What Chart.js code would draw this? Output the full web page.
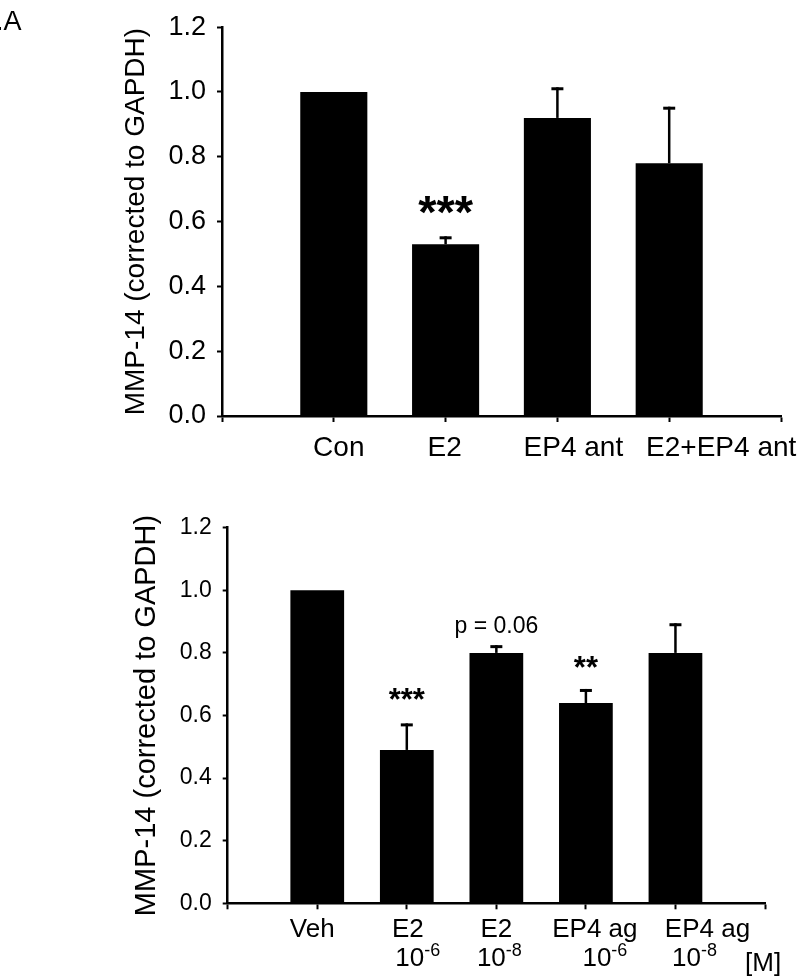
<!DOCTYPE html>
<html><head><meta charset="utf-8">
<script src="https://cdn.jsdelivr.net/npm/chart.js@4"></script>
<style>
html,body{margin:0;padding:0;background:#fff;width:800px;height:979px;overflow:hidden;position:relative}
canvas{position:absolute;left:0}
#c1{top:0}
#c2{top:480px}
</style></head><body>
<canvas id="c1" width="800" height="480"></canvas>
<canvas id="c2" width="800" height="499"></canvas>
<script>
// ---- data ----
const topCategories = ['Con', 'E2', 'EP4 ant', 'E2+EP4 ant'];
const topValues = [1.0, 0.53, 0.92, 0.78];
const topErrors = [0, 0.02, 0.09, 0.17];
const topMarks = ['', '***', '', ''];

const bottomCategories = ['Veh', 'E2', 'E2', 'EP4 ag', 'EP4 ag'];
const bottomDoseBase = ['', '10', '10', '10', '10'];
const bottomDoseExp = ['', '-6', '-8', '-6', '-8'];
const bottomUnit = '[M]';
const bottomValues = [1.0, 0.49, 0.80, 0.64, 0.80];
const bottomErrors = [0, 0.08, 0.02, 0.04, 0.09];
const bottomMarks = ['', '***', 'p = 0.06', '**', ''];

const yTickValues = [0, 0.2, 0.4, 0.6, 0.8, 1.0, 1.2];
const yTitle = 'MMP-14 (corrected to GAPDH)';
const panelLabel = '.A';

const FONT = "'Liberation Sans', Arial, Helvetica, sans-serif";

function pad(arr, fill) { return [fill, ...arr, fill]; }

const errorBars = {
  id: 'errorBars',
  afterDatasetsDraw(chart, args, o) {
    const ctx = chart.ctx, y = chart.scales.y, meta = chart.getDatasetMeta(0);
    const vals = chart.data.datasets[0].data;
    ctx.save();
    ctx.strokeStyle = '#000';
    meta.data.forEach((bar, i) => {
      const e = o.errors[i];
      if (!e) return;
      const v = vals[i];
      const y0 = y.getPixelForValue(v), y1 = y.getPixelForValue(v + e);
      ctx.lineWidth = o.stem;
      ctx.beginPath(); ctx.moveTo(bar.x, y0); ctx.lineTo(bar.x, y1 - o.capW / 2); ctx.stroke();
      ctx.lineWidth = o.capW;
      ctx.beginPath(); ctx.moveTo(bar.x - o.cap, y1); ctx.lineTo(bar.x + o.cap, y1); ctx.stroke();
    });
    ctx.restore();
  }
};

const marks = {
  id: 'marks',
  afterDatasetsDraw(chart, args, o) {
    const ctx = chart.ctx, y = chart.scales.y, meta = chart.getDatasetMeta(0);
    const vals = chart.data.datasets[0].data;
    ctx.save();
    ctx.fillStyle = '#000';
    ctx.textAlign = 'center';
    ctx.textBaseline = 'alphabetic';
    meta.data.forEach((bar, i) => {
      const t = o.marks[i];
      if (!t) return;
      ctx.font = o.fonts[i];
      const yy = y.getPixelForValue(vals[i] + (o.errors[i] || 0)) - o.gaps[i];
      ctx.fillText(t, bar.x, yy);
    });
    ctx.restore();
  }
};

const xLabels = {
  id: 'xLabels',
  afterDraw(chart, args, o) {
    const ctx = chart.ctx, x = chart.scales.x;
    ctx.save();
    ctx.fillStyle = '#000';
    ctx.textBaseline = 'alphabetic';
    o.labels.forEach((t, i) => {
      const px = x.getPixelForValue(i + 1);
      ctx.font = o.font;
      ctx.textAlign = 'center';
      ctx.fillText(t, px + o.shift[i], o.baseline);
      if (o.base && o.base[i]) {
        ctx.font = o.font;
        const w1 = ctx.measureText(o.base[i]).width;
        ctx.font = o.expFont;
        const w2 = ctx.measureText(o.exp[i]).width;
        const left = px + o.shift2[i] - (w1 + w2) / 2;
        ctx.textAlign = 'left';
        ctx.font = o.font;
        ctx.fillText(o.base[i], left, o.baseline2);
        ctx.font = o.expFont;
        ctx.fillText(o.exp[i], left + w1, o.expBaseline);
      }
    });
    if (o.unit) {
      ctx.font = o.font;
      ctx.textAlign = 'left';
      ctx.fillText(o.unit, o.unitX, o.unitY);
    }
    if (o.panel) {
      ctx.font = o.panelFont;
      ctx.textAlign = 'left';
      ctx.fillText(o.panel, o.panelX, o.panelY);
    }
    ctx.restore();
  }
};

function makeChart(id, cats, vals, errs, m, cfg) {
  const labels = pad(cats.map(() => ''), '');
  return new Chart(document.getElementById(id), {
    type: 'bar',
    data: {
      labels: labels,
      datasets: [{
        data: pad(vals, null),
        backgroundColor: '#000',
        borderWidth: 0,
        categoryPercentage: 1.0,
        barPercentage: 0.6
      }]
    },
    options: {
      responsive: false,
      animation: false,
      devicePixelRatio: 1,
      layout: { padding: { left: 0, top: cfg.top, right: cfg.right, bottom: 0 } },
      plugins: {
        legend: { display: false },
        tooltip: { enabled: false },
        errorBars: { errors: pad(errs, 0), stem: 2.5, capW: 3, cap: 6 },
        marks: { marks: pad(m, ''), errors: pad(errs, 0), fonts: pad(cfg.markFonts, ''), gaps: pad(cfg.markGaps, 0) },
        xLabels: cfg.xl
      },
      scales: {
        x: {
          type: 'category',
          offset: false,
          grid: { display: true, offset: false, drawOnChartArea: false, drawTicks: true, tickLength: 6, tickWidth: 2, tickColor: '#000' },
          border: { display: true, color: '#000', width: 2.5 },
          ticks: { display: false },
          afterFit: s => { s.height = cfg.xh; }
        },
        y: {
          min: 0, max: 1.2,
          afterBuildTicks: s => { s.ticks = yTickValues.map(v => ({ value: v })); },
          grid: { display: true, drawOnChartArea: false, drawTicks: true, tickLength: 5, tickWidth: 2, tickColor: '#000' },
          border: { display: true, color: '#000', width: 2.5 },
          ticks: { color: '#000', padding: cfg.ytPad, font: { family: FONT, size: cfg.ytSize }, callback: v => Number(v).toFixed(1) },
          title: { display: true, text: yTitle, color: '#000', font: { family: FONT, size: cfg.titleSize, lineHeight: 1.2 }, padding: { top: cfg.titlePad, bottom: 0 } },
          afterFit: s => { s.width = cfg.yw; }
        }
      }
    },
    plugins: [errorBars, marks, xLabels]
  });
}

makeChart('c1', topCategories, topValues, topErrors, topMarks, {
  top: 25, right: 19, xh: 64, yw: 222,
  ytPad: 11, ytSize: 27, titleSize: 28, titlePad: 119,
  markFonts: ['', 'bold 47px ' + FONT, '', ''],
  markGaps: [0, 10, 0, 0],
  xl: {
    labels: topCategories,
    font: '28px ' + FONT,
    shift: [5, -1, 16, 52],
    baseline: 456,
    panel: panelLabel, panelFont: '27px ' + FONT, panelX: -4, panelY: 30
  }
});

makeChart('c2', bottomCategories, bottomValues, bottomErrors, bottomMarks, {
  top: 47.7, right: 35, xh: 75.7, yw: 227.7,
  ytPad: 11, ytSize: 23, titleSize: 29, titlePad: 130,
  markFonts: ['', 'bold 31px ' + FONT, '23px ' + FONT, 'bold 31px ' + FONT, ''],
  markGaps: [0, 15, 14, 12, 0],
  xl: {
    labels: bottomCategories,
    font: '26px ' + FONT,
    shift: [-5, 1, 0, 9, 32],
    baseline: 937 - 480,
    base: bottomDoseBase, exp: bottomDoseExp,
    expFont: '18px ' + FONT,
    shift2: [0, 11, 3, 19, 19],
    baseline2: 966 - 480, expBaseline: 956 - 480,
    unit: bottomUnit, unitX: 745, unitY: 971 - 480
  }
});
</script>
</body></html>
